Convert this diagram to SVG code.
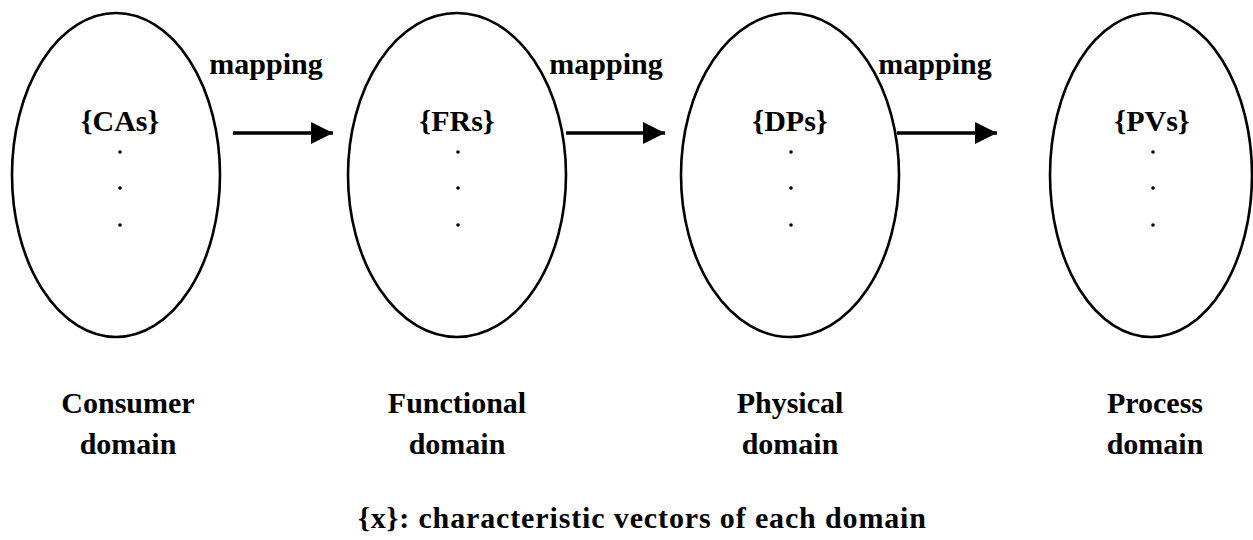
<svg xmlns="http://www.w3.org/2000/svg" width="1253" height="540" viewBox="0 0 1253 540">
<style>
.e{fill:none;stroke:#000;stroke-width:2.6}
.t{font-family:"Liberation Serif",serif;font-weight:bold;font-size:30px;fill:#000;text-anchor:middle}
.d{fill:#000}
.c{stroke:#000;stroke-width:3.5;fill:none}
</style>
<defs>
<marker id="ah" markerUnits="userSpaceOnUse" markerWidth="24" markerHeight="22" refX="22" refY="11" orient="auto">
<path d="M0,0 L22,11 L0,22 Z" fill="#000"/>
</marker>
</defs>
<g id="consumer">
<ellipse class="e" cx="116" cy="175" rx="104" ry="162"/>
<text class="t" x="120" y="131">{CAs}</text>
<circle class="d" cx="120" cy="152" r="1.8"/><circle class="d" cx="120" cy="188" r="1.8"/><circle class="d" cx="120" cy="225" r="1.8"/>
<text class="t" x="128" y="413">Consumer</text>
<text class="t" x="128" y="454">domain</text>
</g>
<g id="functional">
<ellipse class="e" cx="457" cy="175" rx="109" ry="162"/>
<text class="t" x="457" y="131">{FRs}</text>
<circle class="d" cx="458" cy="152" r="1.8"/><circle class="d" cx="458" cy="188" r="1.8"/><circle class="d" cx="458" cy="225" r="1.8"/>
<text class="t" x="457" y="413">Functional</text>
<text class="t" x="457" y="454">domain</text>
</g>
<g id="physical">
<ellipse class="e" cx="790" cy="175" rx="109" ry="162"/>
<text class="t" x="790" y="131">{DPs}</text>
<circle class="d" cx="791" cy="152" r="1.8"/><circle class="d" cx="791" cy="188" r="1.8"/><circle class="d" cx="791" cy="225" r="1.8"/>
<text class="t" x="790" y="413">Physical</text>
<text class="t" x="790" y="454">domain</text>
</g>
<g id="process">
<ellipse class="e" cx="1151" cy="175" rx="101" ry="162"/>
<text class="t" x="1152" y="131">{PVs}</text>
<circle class="d" cx="1153" cy="152" r="1.8"/><circle class="d" cx="1153" cy="188" r="1.8"/><circle class="d" cx="1153" cy="225" r="1.8"/>
<text class="t" x="1155" y="413">Process</text>
<text class="t" x="1155" y="454">domain</text>
</g>
<g id="connectors">
<line class="c" x1="233" y1="133" x2="333" y2="133" marker-end="url(#ah)"/>
<line class="c" x1="566" y1="133" x2="665" y2="133" marker-end="url(#ah)"/>
<line class="c" x1="897" y1="133" x2="997" y2="133" marker-end="url(#ah)"/>
<text class="t" x="266" y="74">mapping</text>
<text class="t" x="606" y="74">mapping</text>
<text class="t" x="935" y="74">mapping</text>
</g>
<text class="t" x="642" y="528" textLength="568" lengthAdjust="spacing">{x}: characteristic vectors of each domain</text>
</svg>
